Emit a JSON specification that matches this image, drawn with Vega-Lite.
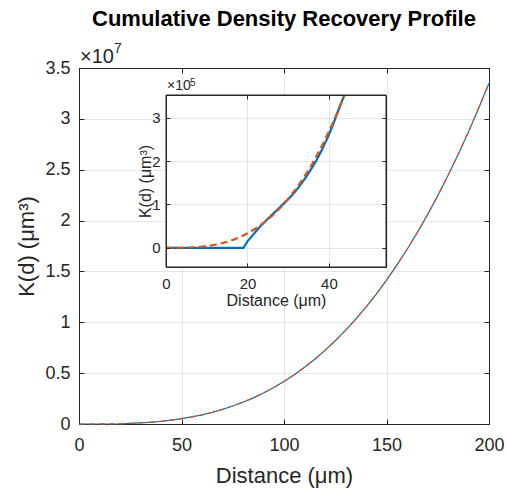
{
  "$schema": "https://vega.github.io/schema/vega-lite/v6.json",
  "width": 410,
  "height": 356,
  "autosize": "none",
  "padding": {"left": 79, "top": 68, "right": 18, "bottom": 71},
  "title": {"text": "Cumulative Density Recovery Profile", "fontSize": 22, "fontWeight": "bold", "font": "Liberation Sans", "color": "#000000", "anchor": "middle", "frame": "group", "baseline": "alphabetic", "offset": -6},
  "config": {
    "view": {"stroke": "#262626", "strokeWidth": 1},
    "axis": {"labelFont": "Liberation Sans", "titleFont": "Liberation Sans", "labelColor": "#262626", "titleColor": "#262626", "domainColor": "#262626", "tickColor": "#262626", "gridColor": "#262626", "gridOpacity": 0.12, "titleFontWeight": "normal", "labelFlush": false, "labelOverlap": false},
    "text": {"font": "Liberation Sans"}
  },
  "datasets": {
    "curves": [
      {"d": 0, "K": 0, "series": "Expected"},
      {"d": 1, "K": 4, "series": "Expected"},
      {"d": 2, "K": 34, "series": "Expected"},
      {"d": 3, "K": 113, "series": "Expected"},
      {"d": 4, "K": 268, "series": "Expected"},
      {"d": 5, "K": 524, "series": "Expected"},
      {"d": 6, "K": 905, "series": "Expected"},
      {"d": 7, "K": 1437, "series": "Expected"},
      {"d": 8, "K": 2145, "series": "Expected"},
      {"d": 9, "K": 3054, "series": "Expected"},
      {"d": 10, "K": 4189, "series": "Expected"},
      {"d": 11, "K": 5575, "series": "Expected"},
      {"d": 12, "K": 7238, "series": "Expected"},
      {"d": 13, "K": 9203, "series": "Expected"},
      {"d": 14, "K": 11494, "series": "Expected"},
      {"d": 15, "K": 14137, "series": "Expected"},
      {"d": 16, "K": 17157, "series": "Expected"},
      {"d": 17, "K": 20580, "series": "Expected"},
      {"d": 18, "K": 24429, "series": "Expected"},
      {"d": 19, "K": 28731, "series": "Expected"},
      {"d": 20, "K": 33510, "series": "Expected"},
      {"d": 21, "K": 38792, "series": "Expected"},
      {"d": 22, "K": 44602, "series": "Expected"},
      {"d": 23, "K": 50965, "series": "Expected"},
      {"d": 24, "K": 57906, "series": "Expected"},
      {"d": 25, "K": 65450, "series": "Expected"},
      {"d": 26, "K": 73622, "series": "Expected"},
      {"d": 27, "K": 82448, "series": "Expected"},
      {"d": 28, "K": 91952, "series": "Expected"},
      {"d": 29, "K": 102160, "series": "Expected"},
      {"d": 30, "K": 113097, "series": "Expected"},
      {"d": 31, "K": 124788, "series": "Expected"},
      {"d": 32, "K": 137258, "series": "Expected"},
      {"d": 33, "K": 150533, "series": "Expected"},
      {"d": 34, "K": 164636, "series": "Expected"},
      {"d": 35, "K": 179594, "series": "Expected"},
      {"d": 36, "K": 195432, "series": "Expected"},
      {"d": 37, "K": 212175, "series": "Expected"},
      {"d": 38, "K": 229847, "series": "Expected"},
      {"d": 39, "K": 248475, "series": "Expected"},
      {"d": 40, "K": 268083, "series": "Expected"},
      {"d": 41, "K": 288696, "series": "Expected"},
      {"d": 42, "K": 310339, "series": "Expected"},
      {"d": 43, "K": 333038, "series": "Expected"},
      {"d": 43.8, "K": 351972, "series": "Expected"},
      {"d": 44, "K": 356818, "series": "Expected"},
      {"d": 45, "K": 381704, "series": "Expected"},
      {"d": 50, "K": 523599, "series": "Expected"},
      {"d": 55, "K": 696910, "series": "Expected"},
      {"d": 60, "K": 904779, "series": "Expected"},
      {"d": 65, "K": 1150347, "series": "Expected"},
      {"d": 70, "K": 1436755, "series": "Expected"},
      {"d": 75, "K": 1767146, "series": "Expected"},
      {"d": 80, "K": 2144661, "series": "Expected"},
      {"d": 85, "K": 2572441, "series": "Expected"},
      {"d": 90, "K": 3053628, "series": "Expected"},
      {"d": 95, "K": 3591364, "series": "Expected"},
      {"d": 100, "K": 4188790, "series": "Expected"},
      {"d": 105, "K": 4849048, "series": "Expected"},
      {"d": 110, "K": 5575280, "series": "Expected"},
      {"d": 115, "K": 6370626, "series": "Expected"},
      {"d": 120, "K": 7238229, "series": "Expected"},
      {"d": 125, "K": 8181231, "series": "Expected"},
      {"d": 130, "K": 9202772, "series": "Expected"},
      {"d": 135, "K": 10305995, "series": "Expected"},
      {"d": 140, "K": 11494041, "series": "Expected"},
      {"d": 145, "K": 12770051, "series": "Expected"},
      {"d": 150, "K": 14137167, "series": "Expected"},
      {"d": 155, "K": 15598531, "series": "Expected"},
      {"d": 160, "K": 17157284, "series": "Expected"},
      {"d": 165, "K": 18816567, "series": "Expected"},
      {"d": 170, "K": 20579522, "series": "Expected"},
      {"d": 175, "K": 22449298, "series": "Expected"},
      {"d": 180, "K": 24429024, "series": "Expected"},
      {"d": 185, "K": 26521850, "series": "Expected"},
      {"d": 190, "K": 28730912, "series": "Expected"},
      {"d": 195, "K": 31059357, "series": "Expected"},
      {"d": 200, "K": 33510322, "series": "Expected"},
      {"d": 0, "K": 0, "series": "Measured"},
      {"d": 19, "K": 0, "series": "Measured"},
      {"d": 20, "K": 15000, "series": "Measured"},
      {"d": 21, "K": 26000, "series": "Measured"},
      {"d": 22, "K": 37000, "series": "Measured"},
      {"d": 23, "K": 48000, "series": "Measured"},
      {"d": 24, "K": 58000, "series": "Measured"},
      {"d": 25, "K": 67000, "series": "Measured"},
      {"d": 26, "K": 76000, "series": "Measured"},
      {"d": 27, "K": 85000, "series": "Measured"},
      {"d": 28, "K": 94000, "series": "Measured"},
      {"d": 29, "K": 103000, "series": "Measured"},
      {"d": 30, "K": 112000, "series": "Measured"},
      {"d": 31, "K": 122000, "series": "Measured"},
      {"d": 32, "K": 133000, "series": "Measured"},
      {"d": 33, "K": 145000, "series": "Measured"},
      {"d": 34, "K": 158000, "series": "Measured"},
      {"d": 35, "K": 172000, "series": "Measured"},
      {"d": 36, "K": 187000, "series": "Measured"},
      {"d": 37, "K": 203000, "series": "Measured"},
      {"d": 38, "K": 221000, "series": "Measured"},
      {"d": 39, "K": 240000, "series": "Measured"},
      {"d": 40, "K": 261000, "series": "Measured"},
      {"d": 41, "K": 284000, "series": "Measured"},
      {"d": 42, "K": 309000, "series": "Measured"},
      {"d": 43, "K": 334000, "series": "Measured"},
      {"d": 43.8, "K": 352000, "series": "Measured"},
      {"d": 44, "K": 357000, "series": "Measured"},
      {"d": 45, "K": 383000, "series": "Measured"},
      {"d": 50, "K": 524000, "series": "Measured"},
      {"d": 55, "K": 696910, "series": "Measured"},
      {"d": 60, "K": 904779, "series": "Measured"},
      {"d": 65, "K": 1150347, "series": "Measured"},
      {"d": 70, "K": 1436755, "series": "Measured"},
      {"d": 75, "K": 1767146, "series": "Measured"},
      {"d": 80, "K": 2144661, "series": "Measured"},
      {"d": 85, "K": 2572441, "series": "Measured"},
      {"d": 90, "K": 3053628, "series": "Measured"},
      {"d": 95, "K": 3591364, "series": "Measured"},
      {"d": 100, "K": 4188790, "series": "Measured"},
      {"d": 105, "K": 4849048, "series": "Measured"},
      {"d": 110, "K": 5575280, "series": "Measured"},
      {"d": 115, "K": 6370626, "series": "Measured"},
      {"d": 120, "K": 7238229, "series": "Measured"},
      {"d": 125, "K": 8181231, "series": "Measured"},
      {"d": 130, "K": 9202772, "series": "Measured"},
      {"d": 135, "K": 10305995, "series": "Measured"},
      {"d": 140, "K": 11494041, "series": "Measured"},
      {"d": 145, "K": 12770051, "series": "Measured"},
      {"d": 150, "K": 14137167, "series": "Measured"},
      {"d": 155, "K": 15598531, "series": "Measured"},
      {"d": 160, "K": 17157284, "series": "Measured"},
      {"d": 165, "K": 18816567, "series": "Measured"},
      {"d": 170, "K": 20579522, "series": "Measured"},
      {"d": 175, "K": 22449298, "series": "Measured"},
      {"d": 180, "K": 24429024, "series": "Measured"},
      {"d": 185, "K": 26521850, "series": "Measured"},
      {"d": 190, "K": 28730912, "series": "Measured"},
      {"d": 195, "K": 31059357, "series": "Measured"},
      {"d": 200, "K": 33510322, "series": "Measured"}
    ]
  },
  "layer": [
    {
      "layer": [
        {
          "data": {"name": "curves"},
          "transform": [{"filter": "datum.series === 'Measured'"}],
          "mark": {"type": "line", "color": "#0072BD", "strokeWidth": 1.2},
          "encoding": {
            "x": {"field": "d", "type": "quantitative", "scale": {"domain": [0, 200], "nice": false, "zero": false},
              "axis": {"orient": "bottom", "values": [0, 50, 100, 150, 200], "grid": true, "tickSize": -5, "labelFontSize": 18, "labelPadding": 17, "title": "Distance (μm)", "titleFontSize": 22, "titleBaseline": "alphabetic", "titleX": 205, "titleY": 58, "titleAlign": "center"}},
            "y": {"field": "K", "type": "quantitative", "scale": {"domain": [0, 35000000], "nice": false, "zero": false},
              "axis": {"orient": "left", "values": [0, 5000000, 10000000, 15000000, 20000000, 25000000, 30000000, 35000000], "labelExpr": "datum.value / 10000000", "grid": true, "tickSize": -5, "labelFontSize": 18, "labelPadding": 14, "title": "K(d) (μm³)", "titleFontSize": 22, "titleBaseline": "alphabetic", "titleX": -46, "titleY": 178, "titleAlign": "center", "titleAngle": 270}}
          }
        },
        {
          "data": {"name": "curves"},
          "transform": [{"filter": "datum.series === 'Expected'"}],
          "mark": {"type": "line", "color": "#D95319", "strokeWidth": 1.2, "strokeDash": [6, 4]},
          "encoding": {
            "x": {"field": "d", "type": "quantitative", "scale": {"domain": [0, 200], "nice": false, "zero": false},
              "axis": {"orient": "top", "values": [0, 50, 100, 150, 200], "grid": false, "tickSize": -5, "labels": false, "title": null}},
            "y": {"field": "K", "type": "quantitative", "scale": {"domain": [0, 35000000], "nice": false, "zero": false},
              "axis": {"orient": "right", "values": [0, 5000000, 10000000, 15000000, 20000000, 25000000, 30000000, 35000000], "grid": false, "tickSize": -5, "labels": false, "title": null}}
          }
        },
        {
          "data": {"values": [{"label": "×10"}]},
          "mark": {"type": "text", "align": "left", "baseline": "alphabetic", "dx": 1, "dy": -5, "fontSize": 20, "color": "#262626"},
          "encoding": {
            "x": {"datum": 0, "type": "quantitative", "axis": null},
            "y": {"datum": 35000000, "type": "quantitative", "axis": null},
            "text": {"field": "label"}
          }
        },
        {
          "data": {"values": [{"label": "7"}]},
          "mark": {"type": "text", "align": "left", "baseline": "alphabetic", "dx": 35, "dy": -15, "fontSize": 14, "color": "#262626"},
          "encoding": {
            "x": {"datum": 0, "type": "quantitative", "axis": null},
            "y": {"datum": 35000000, "type": "quantitative", "axis": null},
            "text": {"field": "label"}
          }
        }
      ],
      "resolve": {"axis": {"x": "independent", "y": "independent"}}
    },
    {
      "layer": [
        {
          "data": {"values": [{"panel": "inset"}]},
          "mark": {"type": "rect", "fill": "#ffffff", "stroke": "#262626", "strokeWidth": 1},
          "encoding": {
            "x": {"datum": 0, "type": "quantitative", "scale": {"domain": [0, 54], "range": [87, 307], "nice": false, "zero": false}, "axis": null},
            "x2": {"datum": 54},
            "y": {"datum": -44000, "type": "quantitative", "scale": {"domain": [-44000, 352000], "range": [199, 27], "nice": false, "zero": false}, "axis": null},
            "y2": {"datum": 352000}
          }
        },
        {
          "data": {"name": "curves"},
          "transform": [{"filter": "datum.series === 'Measured' && datum.d <= 43.8"}],
          "mark": {"type": "line", "color": "#0072BD", "strokeWidth": 2.2},
          "encoding": {
            "x": {"field": "d", "type": "quantitative", "scale": {"domain": [0, 54], "range": [87, 307], "nice": false, "zero": false},
              "axis": {"orient": "bottom", "offset": -157, "values": [0, 20, 40], "grid": false, "tickSize": -4, "labelFontSize": 15, "labelPadding": 13, "title": "Distance (μm)", "titleFontSize": 16, "titleBaseline": "alphabetic", "titleX": 197, "titleY": 38, "titleAlign": "center", "zindex": 1}},
            "y": {"field": "K", "type": "quantitative", "scale": {"domain": [-44000, 352000], "range": [199, 27], "nice": false, "zero": false},
              "axis": {"orient": "left", "offset": -87, "values": [0, 100000, 200000, 300000], "labelExpr": "datum.value / 100000", "grid": true, "tickSize": -4, "labelFontSize": 15, "labelPadding": 10, "title": "K(d) (μm³)", "titleFontSize": 16, "titleBaseline": "alphabetic", "titleX": -16, "titleY": 113, "titleAlign": "center", "titleAngle": 270, "zindex": 1}}
          }
        },
        {
          "data": {"name": "curves"},
          "transform": [{"filter": "datum.series === 'Expected' && datum.d <= 43.8"}],
          "mark": {"type": "line", "color": "#D95319", "strokeWidth": 2.2, "strokeDash": [7, 4]},
          "encoding": {
            "x": {"field": "d", "type": "quantitative", "scale": {"domain": [0, 54], "range": [87, 307], "nice": false, "zero": false},
              "axis": {"orient": "top", "offset": -27, "values": [0, 20, 40], "grid": true, "tickSize": -4, "labels": false, "title": null, "zindex": 1}},
            "y": {"field": "K", "type": "quantitative", "scale": {"domain": [-44000, 352000], "range": [199, 27], "nice": false, "zero": false},
              "axis": {"orient": "right", "offset": -103, "values": [0, 100000, 200000, 300000], "grid": false, "tickSize": -4, "labels": false, "title": null, "zindex": 1}}
          }
        },
        {
          "data": {"values": [{"label": "×10"}]},
          "mark": {"type": "text", "align": "left", "baseline": "alphabetic", "dx": 1, "dy": -5, "fontSize": 14, "color": "#262626"},
          "encoding": {
            "x": {"datum": 0, "type": "quantitative", "scale": {"domain": [0, 54], "range": [87, 307], "nice": false, "zero": false}, "axis": null},
            "y": {"datum": 352000, "type": "quantitative", "scale": {"domain": [-44000, 352000], "range": [199, 27], "nice": false, "zero": false}, "axis": null},
            "text": {"field": "label"}
          }
        },
        {
          "data": {"values": [{"label": "5"}]},
          "mark": {"type": "text", "align": "left", "baseline": "alphabetic", "dx": 24, "dy": -9, "fontSize": 10, "color": "#262626"},
          "encoding": {
            "x": {"datum": 0, "type": "quantitative", "scale": {"domain": [0, 54], "range": [87, 307], "nice": false, "zero": false}, "axis": null},
            "y": {"datum": 352000, "type": "quantitative", "scale": {"domain": [-44000, 352000], "range": [199, 27], "nice": false, "zero": false}, "axis": null},
            "text": {"field": "label"}
          }
        }
      ],
      "resolve": {"axis": {"x": "independent", "y": "independent"}}
    }
  ],
  "resolve": {"scale": {"x": "independent", "y": "independent"}, "axis": {"x": "independent", "y": "independent"}}
}
